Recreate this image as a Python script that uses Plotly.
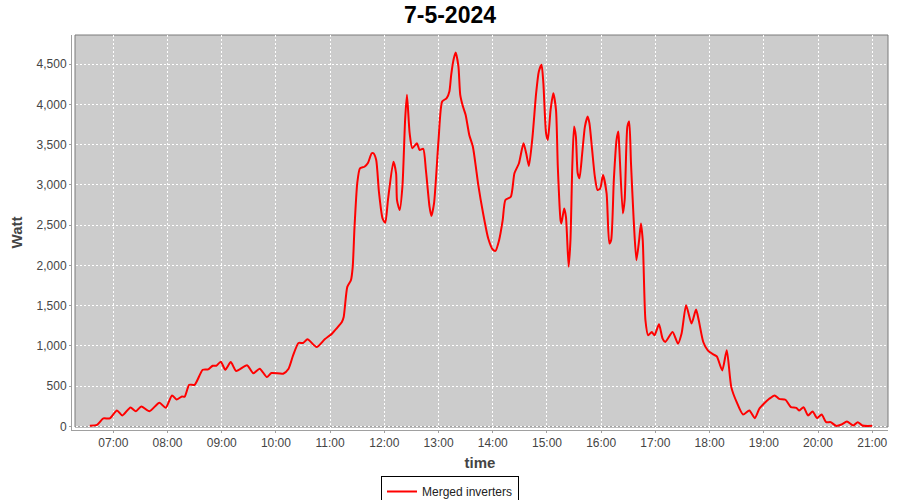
import plotly.graph_objects as go

DATE = "2024-05-07"
TITLE = "7-5-2024"
SERIES_NAME = "Merged inverters"

times = ["06:34","06:42","06:49","06:56","07:04","07:10","07:19","07:25","07:31","07:40",
         "07:51","07:58","08:05","08:10","08:16","08:19","08:24","08:30","08:39","08:45",
         "08:50","08:54","08:59","09:04","09:10","09:16","09:28","09:35","09:42","09:50",
         "09:55","10:08","10:14","10:19","10:25","10:30","10:35","10:45","10:54","11:02",
         "11:07","11:13","11:15","11:19","11:23","11:25","11:27","11:30","11:33","11:38",
         "11:42","11:46","11:48","11:51","11:54","11:58","12:01","12:04","12:10","12:13",
         "12:14","12:17","12:20","12:23","12:25","12:28","12:31","12:36","12:39","12:43",
         "12:46","12:50","12:52","12:55","13:00","13:04","13:09","13:12","13:14","13:17",
         "13:19","13:22","13:24","13:27","13:30","13:34","13:38","13:44","13:49","13:55",
         "14:00","14:03","14:07","14:11","14:14","14:20","14:24","14:29","14:34","14:37",
         "14:40","14:44","14:48","14:51","14:54","14:56","14:59","15:01","15:04","15:07",
         "15:10","15:12","15:15","15:16","15:19","15:21","15:24","15:26","15:28","15:30",
         "15:32","15:34","15:36","15:39","15:42","15:45","15:47","15:50","15:53","15:56",
         "15:59","16:02","16:06","16:09","16:11","16:14","16:17","16:19","16:20","16:24",
         "16:26","16:29","16:31","16:33","16:36","16:39","16:42","16:44","16:46","16:49",
         "16:52","16:56","16:59","17:04","17:08","17:11","17:19","17:25","17:29","17:34",
         "17:40","17:45","17:48","17:53","17:58","18:04","18:08","18:14","18:19","18:24",
         "18:30","18:37","18:44","18:50","18:55","19:00","19:06","19:12","19:17","19:24",
         "19:30","19:36","19:39","19:44","19:49","19:54","19:59","20:04","20:09","20:14",
         "20:20","20:26","20:32","20:39","20:44","20:49","21:00"]

watts = [10, 20, 100, 100, 200, 137, 236, 190, 249, 190,
         295, 232, 386, 336, 373, 370, 518, 518, 705, 710,
         755, 755, 805, 705, 800, 690, 760, 660, 718, 614,
         664, 656, 718, 883, 1037, 1037, 1083, 987, 1083, 1153,
         1216, 1298, 1360, 1734, 1817, 1983, 2480, 3020, 3207, 3227,
         3277, 3394, 3394, 3310, 2916, 2585, 2530, 2813, 3290, 3145,
         2813, 2688, 2978, 3808, 4120, 3643, 3456, 3518, 3435, 3450,
         3186, 2730, 2614, 2772, 3560, 4036, 4078, 4161, 4368, 4576,
         4646, 4472, 4120, 3974, 3870, 3622, 3476, 2999, 2667, 2336,
         2199, 2182, 2315, 2564, 2813, 2854, 3145, 3270, 3518, 3394,
         3236, 3600, 4140, 4410, 4493, 4265, 3643, 3560, 3933, 4140,
         3933, 3227, 2564, 2523, 2709, 2605, 1983, 2315, 3227, 3725,
         3600, 3145, 3083, 3394, 3725, 3850, 3767, 3435, 3103, 2937,
         2958, 3124, 2896, 2274, 2315, 3062, 3560, 3663, 3476, 2647,
         2813, 3725, 3788, 3270, 2564, 2066, 2315, 2523, 2315, 1319,
         1133, 1174, 1133, 1270, 1091, 1050, 1174, 1029, 1154, 1506,
         1278, 1452, 1319, 1050, 946, 896, 871, 697, 946, 489,
         302, 149, 199, 104, 220, 282, 344, 386, 344, 332,
         240, 232, 199, 240, 137, 187, 104, 149, 54, 54,
         8, 25, 62, 12, 54, 12, 8]

x_range = ["06:14:17", "21:17:28"]
y_range = [-43.5, 4863]

FONT = "Liberation Sans, Arial, sans-serif"

W, H = 900, 500
ML, MR, MT, MB = 72, 12, 35, 70
PW, PH = W - ML - MR, H - MT - MB

fig = go.Figure()
fig.add_trace(go.Scatter(
    x=[f"{DATE} {t}" for t in times],
    y=watts,
    mode="lines",
    name=SERIES_NAME,
    line=dict(color="#ff0000", width=2, shape="spline", smoothing=0.6),
))

# grey plot background with outline (inset from axis lines like JFreeChart)
fig.add_shape(type="rect", xref="paper", yref="paper",
              x0=3/PW, x1=1, y0=3/PH, y1=1,
              fillcolor="#cccccc", line=dict(color="#7a7a7a", width=1),
              layer="below")

fig.update_layout(
    width=W, height=H,
    margin=dict(l=ML, r=MR, t=MT, b=MB, autoexpand=False),
    paper_bgcolor="white", plot_bgcolor="white",
    font=dict(family=FONT, size=12, color="#444444"),
    title=dict(text=f"<b>{TITLE}</b>", x=450/W, xanchor="center", xref="container",
               y=1 - 15/H, yanchor="middle", yref="container",
               font=dict(family=FONT, size=23, color="#000000")),
    showlegend=True,
    legend=dict(orientation="h", x=(450-ML)/PW, xanchor="center",
                y=(MT+PH-476)/PH, yanchor="top",
                bordercolor="#000000", borderwidth=1, bgcolor="white",
                font=dict(family=FONT, size=12, color="#222222"),
                itemwidth=30),
    xaxis=dict(
        type="date", range=[f"{DATE} {x_range[0]}", f"{DATE} {x_range[1]}"],
        dtick=3600000, tick0=f"{DATE} 00:00", tickformat="%H:%M",
        showgrid=True, gridcolor="#ffffff", griddash="2px,2px", gridwidth=1,
        showline=True, linecolor="#a0a0a0", linewidth=1,
        ticks="outside", ticklen=2, tickcolor="#a0a0a0",
        tickfont=dict(family=FONT, size=12, color="#444444"),
        title=dict(text="<b>time</b>", standoff=8,
                   font=dict(family=FONT, size=15, color="#444444")),
        zeroline=False, fixedrange=True, automargin=False,
    ),
    yaxis=dict(
        range=y_range, dtick=500, tick0=0, tickformat=",d",
        showgrid=True, gridcolor="#ffffff", griddash="2px,2px", gridwidth=1,
        showline=True, linecolor="#a0a0a0", linewidth=1,
        ticks="outside", ticklen=2, tickcolor="#a0a0a0",
        tickfont=dict(family=FONT, size=12, color="#444444"),
        title=dict(text="<b>Watt</b>", standoff=10,
                   font=dict(family=FONT, size=15, color="#444444")),
        zeroline=False, fixedrange=True, automargin=False,
    ),
)

# remove the default 8px page margin so the 900x500 figure fills the window
fig.write_html("out.html", config={"displayModeBar": False},
               post_script="document.body.style.margin='0';")
